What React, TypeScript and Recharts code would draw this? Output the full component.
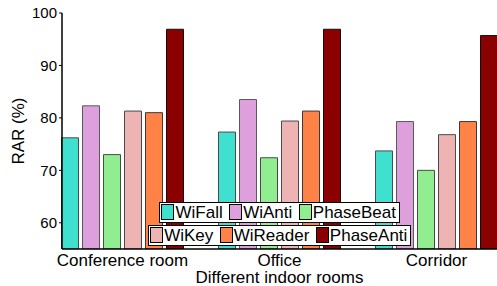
import { BarChart, Bar, XAxis, YAxis, Legend } from 'recharts';

const rooms = ['Conference room', 'Office', 'Corridor'];
const wiFall = [76.2, 77.3, 73.7];
const wiAnti = [82.3, 83.5, 79.3];
const phaseBeat = [73.0, 72.4, 70.0];
const wiKey = [81.3, 79.4, 76.8];
const wiReader = [81.0, 81.3, 79.3];
const phaseAnti = [96.9, 96.9, 95.7];
const yTicks = [60, 70, 80, 90, 100];

const series = [
  { key: 'WiFall', values: wiFall, color: '#40E0D0', stroke: '#4a4a4a' },
  { key: 'WiAnti', values: wiAnti, color: '#DDA0DD', stroke: '#5a5a5a' },
  { key: 'PhaseBeat', values: phaseBeat, color: '#90EE90', stroke: '#4a4a4a' },
  { key: 'WiKey', values: wiKey, color: '#EEB4B4', stroke: '#4a4a4a' },
  { key: 'WiReader', values: wiReader, color: '#FF8247', stroke: '#3a3a3a' },
  { key: 'PhaseAnti', values: phaseAnti, color: '#8B0000', stroke: '#111' },
];

const data = rooms.map((name, i) => {
  const row: Record<string, string | number> = { name };
  series.forEach((s) => {
    row[s.key] = s.values[i];
  });
  return row;
});

const font = '"Liberation Sans", Arial, Helvetica, sans-serif';

function LegendBoxes({ payload }: { payload?: any[] }) {
  // keep series order, not the alphabetical one
  const order = series.map((s) => s.key);
  const items = [...(payload ?? [])].sort(
    (a, b) => order.indexOf(a.value) - order.indexOf(b.value)
  );
  const rows = [items.slice(0, 3), items.slice(3, 6)];
  return (
    <div style={{ display: 'flex', flexDirection: 'column', alignItems: 'center', gap: 2 }}>
      {rows.map((row, r) => (
        <div
          key={r}
          style={{
            display: 'flex',
            alignItems: 'center',
            background: '#fff',
            border: '1.5px solid #000',
            height: 19,
            padding: '0 3px 0 1.5px',
            fontFamily: font,
            fontSize: 17,
            color: '#000',
            whiteSpace: 'nowrap',
          }}
        >
          {row.map((entry: any, i: number) => (
            <span
              key={entry.value}
              style={{ display: 'flex', alignItems: 'center', marginLeft: i === 0 ? 0 : 6.5 }}
            >
              <span
                style={{
                  display: 'inline-block',
                  width: 11,
                  height: 14,
                  background: entry.color,
                  border: '1px solid #000',
                  marginRight: 1,
                }}
              />
              <span style={{ lineHeight: '19px' }}>{entry.value}</span>
            </span>
          ))}
        </div>
      ))}
    </div>
  );
}

export default function App() {
  return (
    <div style={{ position: 'absolute', left: 0, top: 0, width: 497, height: 286, background: '#fff' }}>
      <BarChart
        width={498}
        height={286}
        data={data}
        margin={{ top: 13, right: 1, bottom: 0, left: 0 }}
        barCategoryGap={17.5}
        barGap={4}
      >
        <XAxis
          dataKey="name"
          height={37}
          padding={{ left: -18, right: -18 }}
          axisLine={{ stroke: '#000', strokeWidth: 1.5 }}
          tickLine={false}
          tickSize={0}
          tickMargin={5}
          tick={{ fill: '#000', fontSize: 17, fontFamily: font }}
          interval={0}
          label={{
            value: 'Different indoor rooms',
            position: 'insideBottom',
            offset: 3.5,
            fill: '#000',
            fontSize: 17,
            fontFamily: font,
          }}
        />
        <XAxis
          xAxisId="top"
          dataKey="name"
          orientation="top"
          mirror
          height={0}
          padding={{ left: -18, right: -18 }}
          axisLine={{ stroke: '#000', strokeWidth: 1.5 }}
          tickLine={{ stroke: '#000', strokeWidth: 1 }}
          tickSize={4}
          tick={false}
          interval={0}
        />
        <YAxis
          width={62}
          domain={[55, 100]}
          ticks={yTicks}
          allowDataOverflow
          axisLine={{ stroke: '#000', strokeWidth: 1.5 }}
          tickLine={{ stroke: '#000', strokeWidth: 1 }}
          tickSize={3}
          tickMargin={2}
          tick={{ fill: '#000', fontSize: 15, fontFamily: font }}
          label={{
            value: 'RAR (%)',
            angle: -90,
            position: 'insideLeft',
            offset: 18,
            fill: '#000',
            fontSize: 17,
            fontFamily: font,
            style: { textAnchor: 'middle' },
          }}
        />
        {series.map((s) => (
          <Bar
            key={s.key}
            dataKey={s.key}
            name={s.key}
            fill={s.color}
            stroke={s.stroke}
            strokeWidth={1}
            isAnimationActive={false}
          />
        ))}
        <Legend
          layout="horizontal"
          verticalAlign="middle"
          align="center"
          wrapperStyle={{ position: 'absolute', left: 62, top: 201.5, width: 435 }}
          content={(props: any) => <LegendBoxes payload={props.payload} />}
        />
      </BarChart>
    </div>
  );
}
